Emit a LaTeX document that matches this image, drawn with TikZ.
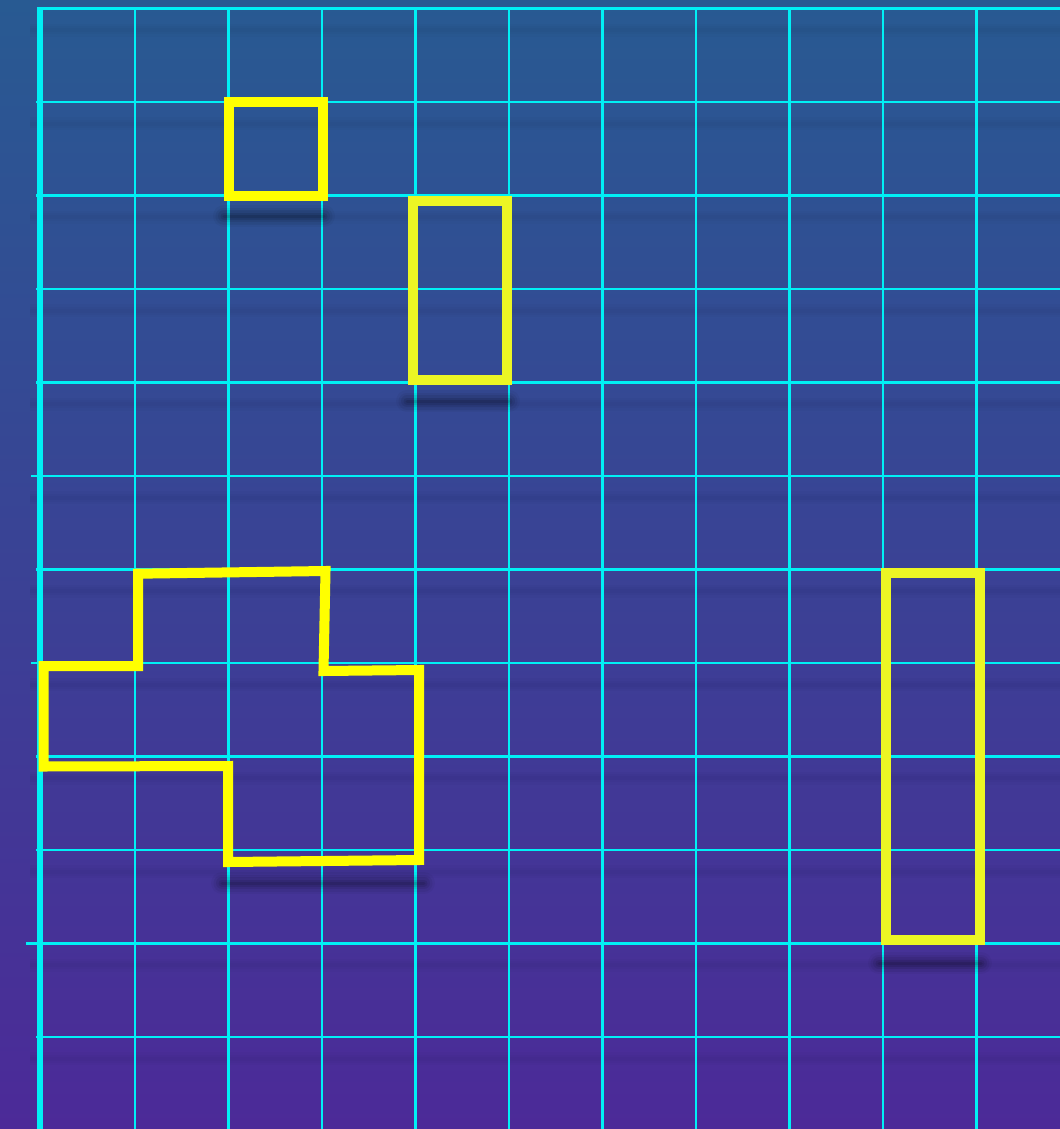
\documentclass[tikz,border=0pt]{standalone}
\usetikzlibrary{calc}

\definecolor{bgtop}{RGB}{40,90,146}
\definecolor{bgbot}{RGB}{76,42,152}
\definecolor{gridcyan}{RGB}{0,240,245}
\definecolor{hiyellow}{RGB}{255,255,0}
\definecolor{limeyellow}{RGB}{236,246,36}

\begin{document}
\begin{tikzpicture}[x=0.75pt, y=-0.75pt,
    gridln/.style={gridcyan, line width=1.9pt},
    axisln/.style={gridcyan, line width=3.8pt},
    gridshade/.style={black, opacity=0.02},
    outline/.style={hiyellow, line width=7.5pt, line join=miter},
    dropshade/.style={black, line cap=round}
]
\fill[top color=bgtop, bottom color=bgbot] (0,0) rectangle (1060,1129);
\useasboundingbox (0,0) rectangle (1060,1129);

% faint bands below the horizontal lines
\foreach \k in {0,...,11}
  \foreach \w in {4,8,13}
    \draw[gridshade, line width=\w*0.75pt] (30,{30.3+93.5*\k}) -- (1060,{30.3+93.5*\k});

% grid
\foreach \i in {1,...,10}
  \draw[gridln] ({41.5+93.5*\i},8.3) -- ({41.5+93.5*\i},1129);
\foreach \k/\xs in {0/37,1/36,2/36,3/36,4/36,5/31,6/36,7/31,8/36,9/36,10/26,11/36}
  \draw[gridln] (\xs,{8.3+93.5*\k}) -- (1060,{8.3+93.5*\k});
\draw[axisln] (40,7.5) -- (40,1129);

% soft shadows under the outlines
\foreach \xa/\xb/\ys in {224/324/216, 407/509/401, 222/424/883, 879/981/963}
  \foreach \w/\o in {22/0.035, 17/0.05, 12/0.07, 7/0.09, 3/0.1}
    \draw[dropshade, opacity=\o, line width=\w*0.75pt] (\xa,\ys) -- (\xb,\ys);

% outlines
\draw[outline] (229.3,102.3) rectangle (323,195.7);
\draw[outline, limeyellow] (412.5,201) rectangle (506.5,380);
\draw[outline] (138,573.7) -- (325.5,571) -- (323.5,671) -- (419,670)
  -- (419,860) -- (228,862) -- (228,766) -- (43.5,766.5) -- (43.5,666)
  -- (138,666) -- cycle;
\draw[outline, limeyellow] (886,573) rectangle (980,939.7);
\end{tikzpicture}
\end{document}
